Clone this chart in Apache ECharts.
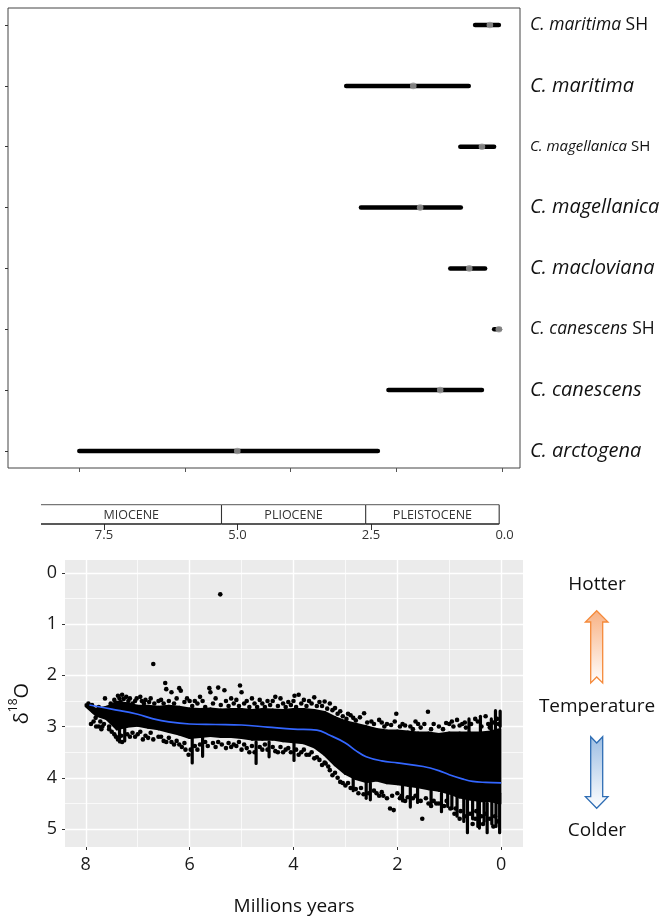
<!DOCTYPE html>
<html><head><meta charset="utf-8">
<script src="https://cdn.jsdelivr.net/npm/echarts@6/dist/echarts.min.js"></script>
<style>html,body{margin:0;padding:0;background:#fff}#c{width:663px;height:920px}</style>
</head><body><div id="c"></div>
<script>
// ---------- data ----------
const species = ['C. maritima SH','C. maritima','C. magellanica SH','C. magellanica','C. macloviana','C. canescens SH','C. canescens','C. arctogena'];
const ageOld   = [0.51, 2.95, 0.79, 2.67, 0.98, 0.15, 2.15, 8.00];
const ageYoung = [0.06, 0.63, 0.15, 0.78, 0.32, 0.04, 0.38, 2.35];
const ageMid   = [0.23, 1.68, 0.38, 1.55, 0.62, 0.06, 1.17, 5.01];
const rowTicks = [1,2,3,4,5,6,7,8];
const topTicks = [0,2,4,6,8];

const epochNames = ['MIOCENE','PLIOCENE','PLEISTOCENE'];
const epochStart = [8.68, 5.3, 2.6];
const epochEnd   = [5.3, 2.6, 0.1];
const scaleTicks = [7.5, 5.0, 2.5];
const scaleLabels = [7.5, 5.0, 2.5, 0.0];

const ageTicks = [8,6,4,2,0];
const ageMinor = [7,5,3,1];
const d18Ticks = [0,1,2,3,4,5];
const d18Minor = [0.5,1.5,2.5,3.5,4.5];

// dense core of the δ18O cloud (upper / lower edge)
const cloudAge    = [8.0,7.8,7.6,7.4,7.2,7.0,6.8,6.6,6.4,6.2,6.0,5.8,5.6,5.4,5.2,5.0,4.8,4.6,4.4,4.2,4.0,3.8,3.6,3.4,3.2,3.0,2.8,2.6,2.4,2.2,2.0,1.8,1.6,1.4,1.2,1.0,0.8,0.6,0.4,0.2,0.02];
const cloudTop    = [2.57,2.66,2.62,2.52,2.55,2.6,2.6,2.62,2.6,2.62,2.65,2.66,2.65,2.67,2.66,2.66,2.68,2.66,2.67,2.68,2.66,2.66,2.68,2.72,2.82,2.9,2.95,3.0,3.05,3.08,3.08,3.1,3.12,3.12,3.15,3.12,3.12,3.12,3.12,3.1,3.05];
const cloudBottom = [2.6,2.78,2.85,3.05,3.0,2.98,3.02,3.05,3.1,3.15,3.22,3.2,3.18,3.2,3.2,3.22,3.25,3.25,3.25,3.28,3.3,3.32,3.4,3.55,3.75,3.92,4.02,4.08,4.05,4.1,4.12,4.15,4.18,4.22,4.25,4.3,4.38,4.42,4.45,4.45,4.5];

// vertical runs of points [age, from, to]
const streaks = [
 [7.35,3.0,3.3],[7.25,3.0,3.28],[5.95,3.2,3.71],[5.75,3.2,3.58],[4.72,3.3,3.72],[4.47,3.3,3.59],[3.99,3.3,3.66],
 [2.85,3.9,4.25],[2.6,4.0,4.4],[2.52,4.1,4.43],[1.9,4.1,4.45],[1.75,4.1,4.57],[1.61,4.2,4.48],[1.35,4.2,4.5],[1.15,4.3,4.66],[1.03,4.3,4.56],
 [0.95,4.3,4.6],[0.85,4.3,4.75],[0.72,4.4,4.85],[0.65,4.4,5.07],[0.55,4.4,4.8],[0.45,4.4,4.95],[0.42,4.4,4.98],[0.33,4.4,4.85],[0.27,4.5,5.07],[0.18,4.4,4.9],[0.1,4.4,4.95],[0.03,4.3,5.07],
 [0.62,2.85,3.1],[0.4,2.8,3.1],[0.19,2.85,3.1],[0.11,2.69,3.1],[0.02,2.7,3.0]
];

// individual points
const points = [
 [5.41,0.42],[6.70,1.78],
 [7.95,2.55],[7.88,2.58],[7.81,2.83],[7.8,3.0],[7.7,2.79],[7.68,3.0],[7.63,2.45],[7.59,2.77],[7.55,3.0],[7.43,2.64],[7.38,2.4],[7.3,2.38],[7.22,2.42],[7.15,2.45],[7.05,2.5],[6.95,2.42],[6.85,2.48],[6.75,2.45],[6.6,2.5],[6.47,2.15],[6.45,2.27],[6.35,2.33],[6.2,2.25],[6.17,2.3],[6.05,2.45],[5.9,2.5],[5.8,2.42],[5.62,2.25],[5.6,2.33],[5.45,2.24],[5.33,2.29],[5.2,2.45],[5.1,2.48],[5.03,2.2],[5.0,2.33],[4.9,2.5],[4.8,2.45],[4.65,2.48],[4.5,2.5],[4.35,2.42],[4.25,2.45],[4.1,2.52],[3.98,2.4],[3.9,2.38],[3.8,2.48],[3.7,2.5],[3.6,2.43],[3.5,2.52],[3.4,2.51],[3.3,2.55],[3.2,2.64],[3.1,2.7],[2.95,2.75],[2.85,2.83],[2.64,2.74],[2.5,2.9],[2.35,2.87],[2.2,2.95],[2.02,2.75],[1.9,2.95],[1.75,3.0],[1.6,2.95],[1.41,2.71],[1.3,2.95],[1.06,2.93],[0.95,2.9],[0.85,2.87],[0.75,2.95],[0.5,2.85],[0.3,2.8],
 [7.92,2.62],[7.85,2.7],[7.75,2.62],[7.72,2.9],[7.62,2.68],[7.52,2.55],[7.48,2.72],[7.45,2.48],[7.35,2.45],[7.33,2.52],[7.27,2.46],[7.18,2.5],[7.1,2.55],[7.02,2.45],[6.92,2.5],[6.88,2.55],[6.78,2.52],[6.68,2.55],[6.55,2.48],[6.5,2.55],[6.4,2.5],[6.3,2.55],[6.25,2.45],[6.1,2.52],[6.0,2.5],[5.95,2.6],[5.85,2.55],[5.75,2.5],[5.7,2.62],[5.55,2.55],[5.5,2.45],[5.4,2.58],[5.3,2.5],[5.25,2.6],[5.15,2.55],[5.05,2.6],[4.95,2.55],[4.85,2.62],[4.75,2.55],[4.7,2.62],[4.6,2.55],[4.55,2.62],[4.45,2.58],[4.4,2.5],[4.3,2.6],[4.2,2.55],[4.15,2.62],[4.05,2.58],[4.0,2.5],[3.95,2.62],[3.85,2.55],[3.75,2.6],[3.65,2.55],[3.55,2.6],[3.45,2.6],[3.35,2.65],[3.25,2.68],[3.15,2.75],[3.05,2.8],[2.98,2.85],[2.9,2.78],[2.8,2.88],[2.72,2.82],[2.58,2.92],[2.45,2.95],[2.3,2.92],[2.25,3.0],[2.12,2.97],[2.05,2.9],[1.95,3.0],[1.85,2.98],[1.7,3.05],[1.65,2.9],[1.55,3.02],[1.48,2.95],[1.35,3.05],[1.2,3.0],[1.12,3.05],[1.0,2.95],[0.92,3.0],[0.8,2.98],[0.7,2.92],[0.68,3.02],[0.58,2.95],[0.45,2.9],[0.38,3.0],[0.25,2.95],[0.22,3.02],[0.15,2.92],[0.08,2.85],[0.05,2.95],
 [7.9,2.95],[7.7,3.05],[7.5,3.1],[7.42,3.2],[7.3,3.3],[7.15,3.2],[7.0,3.15],[6.9,3.25],[6.8,3.22],[6.6,3.2],[6.45,3.3],[6.3,3.35],[6.15,3.4],[6.02,3.55],[5.85,3.45],[5.5,3.4],[5.3,3.42],[5.15,3.35],[5.0,3.45],[4.85,3.5],[4.6,3.45],[4.3,3.5],[4.15,3.45],[3.85,3.5],[3.7,3.55],[3.55,3.6],[3.4,3.7],[3.33,3.78],[3.2,3.9],[3.05,4.1],[2.9,4.2],[2.75,4.3],[2.4,4.3],[2.27,4.35],[2.14,4.6],[2.07,4.63],[1.95,4.4],[1.85,4.45],[1.52,4.8],[1.4,4.5],[1.25,4.5],[0.9,4.7],[0.8,4.8],[0.55,4.9],[0.35,4.9],[0.15,4.95],
 [7.85,2.9],[7.75,3.0],[7.65,2.95],[7.55,3.05],[7.45,3.15],[7.38,3.25],[7.32,3.18],[7.2,3.15],[7.1,3.12],[7.05,3.2],[6.95,3.1],[6.85,3.18],[6.75,3.12],[6.7,3.25],[6.55,3.2],[6.5,3.28],[6.4,3.22],[6.35,3.3],[6.25,3.28],[6.2,3.35],[6.1,3.32],[6.08,3.45],[5.98,3.45],[5.9,3.38],[5.8,3.35],[5.7,3.3],[5.65,3.38],[5.55,3.32],[5.45,3.3],[5.38,3.35],[5.25,3.32],[5.2,3.4],[5.1,3.38],[5.05,3.3],[4.95,3.35],[4.9,3.42],[4.8,3.38],[4.75,3.5],[4.65,3.4],[4.55,3.35],[4.5,3.45],[4.4,3.4],[4.35,3.48],[4.25,3.4],[4.2,3.5],[4.1,3.42],[4.05,3.5],[3.95,3.45],[3.9,3.55],[3.8,3.45],[3.75,3.55],[3.65,3.5],[3.6,3.62],[3.5,3.65],[3.45,3.75],[3.38,3.72],[3.3,3.85],[3.25,3.95],[3.15,4.0],[3.1,4.08],[3.0,4.15],[2.95,4.1],[2.8,4.22],[2.7,4.2],[2.65,4.32],[2.55,4.3],[2.45,4.25],[2.35,4.35],[2.3,4.28],[2.2,4.4],[2.1,4.35],[2.0,4.3],[1.92,4.35],[1.8,4.38],[1.7,4.4],[1.65,4.35],[1.55,4.45],[1.45,4.4],[1.35,4.55],[1.3,4.45],[1.2,4.5],[1.1,4.55],[1.05,4.45],[0.98,4.6],[0.88,4.6],[0.78,4.65],[0.7,4.75],[0.6,4.7],[0.5,4.8],[0.48,4.65],[0.38,4.75],[0.3,4.7],[0.22,4.8],[0.12,4.75],[0.06,4.85]
];

const smoothAge = [7.93,7.5,7.0,6.7,6.4,6.0,5.5,5.0,4.5,4.0,3.55,3.3,3.0,2.8,2.6,2.3,2.0,1.5,1.2,1.0,0.75,0.55,0.3,0.0];
const smoothD18 = [2.58,2.66,2.76,2.85,2.91,2.95,2.96,2.97,3.01,3.05,3.07,3.17,3.32,3.47,3.59,3.67,3.71,3.78,3.86,3.94,4.02,4.07,4.09,4.10];

// ---------- chart ----------
const FF = '"Open Sans", "Noto Sans", sans-serif';
const labelSize = [17.5, 20, 15, 20, 20, 17.5, 20, 20];
const rich = {};
[15,17.5,20].forEach(s => {
  const k = String(s).replace('.', '_');
  rich['i' + k] = {fontStyle:'italic', fontSize:s, fontFamily:FF, color:'#111'};
  rich['n' + k] = {fontSize:s, fontFamily:FF, color:'#111'};
});
const noZero = {show:false, onZero:false};

const chart = echarts.init(document.getElementById('c'), null, {renderer:'canvas'});

const option = {
  backgroundColor:'#fff',
  animation:false,
  grid:[
    {left:8, top:8, width:512, height:460, show:true, borderColor:'#444', borderWidth:1, containLabel:false},
    {left:23.9, top:504.7, width:491.3, height:19.3, show:false},
    {left:57, top:560, width:466, height:287, show:true, backgroundColor:'#EBEBEB', borderWidth:0}
  ],
  xAxis:[
    {gridIndex:0, type:'value', inverse:true, min:-0.34, max:9.35, position:'bottom',
     axisLine:noZero, splitLine:{show:false}, axisLabel:{show:false},
     axisTick:{show:true, length:4, lineStyle:{color:'#555', width:1}, customValues:topTicks}},
    {gridIndex:1, type:'value', inverse:true, min:-0.2, max:9.0, position:'bottom',
     axisLine:noZero, splitLine:{show:false},
     axisTick:{show:true, length:6, lineStyle:{color:'#333', width:1}, customValues:scaleTicks},
     axisLabel:{customValues:scaleLabels, formatter:v => Number(v).toFixed(1), fontSize:13, color:'#333', margin:5, fontFamily:FF}},
    {gridIndex:2, type:'value', inverse:true, min:-0.42, max:8.40, position:'bottom',
     axisLine:noZero,
     axisTick:{show:true, length:3, lineStyle:{color:'#333'}, customValues:ageTicks},
     axisLabel:{customValues:ageTicks, fontSize:18, color:'#1a1a1a', margin:9, fontFamily:FF},
     splitLine:{show:true, lineStyle:{color:'#ffffff', width:1.4}},
     name:'Millions years', nameLocation:'middle', nameGap:50,
     nameTextStyle:{fontSize:19, color:'#111', fontFamily:FF}},
    {gridIndex:2, type:'value', inverse:true, min:-0.42, max:8.40, position:'top',
     axisLine:noZero, axisTick:{show:false, customValues:ageMinor}, axisLabel:{show:false},
     splitLine:{show:true, lineStyle:{color:'#ffffff', width:0.7}}}
  ],
  yAxis:[
    {gridIndex:0, type:'value', inverse:true, min:0.72, max:8.28, position:'left',
     axisLine:noZero, splitLine:{show:false}, axisLabel:{show:false},
     axisTick:{show:true, length:3, lineStyle:{color:'#333'}, customValues:rowTicks}},
    {gridIndex:0, type:'value', position:'right', inverse:true, min:0.72, max:8.28,
     axisLine:noZero, splitLine:{show:false}, axisTick:{show:false},
     axisLabel:{customValues:rowTicks, margin:10, rich:rich,
       formatter:v => {
         const i = Math.round(v) - 1; const nm = species[i];
         const k = String(labelSize[i]).replace('.', '_');
         const sh = nm.endsWith(' SH'); const base = sh ? nm.slice(0, -3) : nm;
         return '{i' + k + '|' + base + '}' + (sh ? '{n' + k + '| SH}' : '');
       }}},
    {gridIndex:1, type:'value', min:0, max:1, show:false},
    {gridIndex:2, type:'value', inverse:true, min:-0.25, max:5.35, position:'left',
     axisLine:noZero,
     axisTick:{show:true, length:3, lineStyle:{color:'#333'}, customValues:d18Ticks},
     axisLabel:{customValues:d18Ticks, fontSize:18, color:'#1a1a1a', margin:8, fontFamily:FF},
     splitLine:{show:true, lineStyle:{color:'#ffffff', width:1.4}},
     name:'{d|δ}{s|18}{d|O}', nameLocation:'middle', nameGap:33,
     nameTextStyle:{rich:{d:{fontSize:20, fontFamily:FF, color:'#111', verticalAlign:'bottom', lineHeight:24},
                          s:{fontSize:12, fontFamily:FF, color:'#111', verticalAlign:'top', lineHeight:12}}}},
    {gridIndex:2, type:'value', inverse:true, min:-0.25, max:5.35, position:'right',
     axisLine:noZero, axisTick:{show:false, customValues:d18Minor}, axisLabel:{show:false},
     splitLine:{show:true, lineStyle:{color:'#ffffff', width:0.7}}}
  ],
  series:[
    {type:'custom', xAxisIndex:0, yAxisIndex:0,
     data:species.map((s, i) => [i + 1, ageOld[i], ageYoung[i], ageMid[i]]),
     encode:{y:0, x:[1,2,3]},
     renderItem:(params, api) => {
       const a = api.coord([api.value(1), api.value(0)]);
       const b = api.coord([api.value(2), api.value(0)]);
       const m = api.coord([api.value(3), api.value(0)]);
       return {type:'group', children:[
         {type:'line', shape:{x1:a[0], y1:a[1], x2:b[0], y2:b[1]}, style:{stroke:'#000', lineWidth:4.5, lineCap:'round'}},
         {type:'circle', shape:{cx:m[0], cy:m[1], r:3.3}, style:{fill:'rgba(150,150,150,0.85)'}}
       ]};
     }},
    {type:'custom', xAxisIndex:1, yAxisIndex:2,
     data:epochNames.map((n, i) => [epochStart[i], epochEnd[i]]),
     encode:{x:[0,1]},
     renderItem:(params, api) => {
       const x0 = api.coord([api.value(0), 1]);
       const x1 = api.coord([api.value(1), 1]);
       const b0 = api.coord([api.value(0), 0]);
       const b1 = api.coord([api.value(1), 0]);
       const name = epochNames[params.dataIndex];
       return {type:'group', children:[
         {type:'line', shape:{x1:x0[0], y1:x0[1], x2:x1[0], y2:x1[1]}, style:{stroke:'#777', lineWidth:1.3}},
         {type:'line', shape:{x1:b0[0], y1:b0[1], x2:b1[0], y2:b1[1]}, style:{stroke:'#222', lineWidth:1.3}},
         {type:'line', shape:{x1:x1[0], y1:x1[1], x2:b1[0], y2:b1[1]}, style:{stroke:'#333', lineWidth:1.1}},
         {type:'text', x:(x0[0] + x1[0]) / 2, y:(x0[1] + b0[1]) / 2 + 1.5,
          style:{text:name, fontSize:12.5, fontFamily:FF, fill:'#333', align:'center', verticalAlign:'middle'}}
       ]};
     }},
    {type:'custom', xAxisIndex:2, yAxisIndex:3, silent:true,
     data:cloudAge.map((a, i) => [a, cloudTop[i], cloudBottom[i]]),
     encode:{x:0, y:[1,2]},
     renderItem:(params, api) => {
       const i = params.dataIndex;
       if (i >= cloudAge.length - 1) return null;
       const p1 = api.coord([cloudAge[i], cloudTop[i]]);
       const p2 = api.coord([cloudAge[i + 1], cloudTop[i + 1]]);
       const p3 = api.coord([cloudAge[i + 1], cloudBottom[i + 1]]);
       const p4 = api.coord([cloudAge[i], cloudBottom[i]]);
       return {type:'polygon', shape:{points:[p1, p2, p3, p4]}, style:{fill:'#000', stroke:'#000', lineWidth:2.5, lineJoin:'round'}};
     }},
    {type:'custom', xAxisIndex:2, yAxisIndex:3, data:streaks, encode:{x:0, y:[1,2]},
     renderItem:(params, api) => {
       const p1 = api.coord([api.value(0), api.value(1)]);
       const p2 = api.coord([api.value(0), api.value(2)]);
       return {type:'rect', shape:{x:p1[0] - 1.6, y:Math.min(p1[1], p2[1]) - 1.6, width:3.2, height:Math.abs(p2[1] - p1[1]) + 3.2, r:1.6}, style:{fill:'#000'}};
     }},
    {type:'scatter', xAxisIndex:2, yAxisIndex:3, data:points, symbolSize:4.6, itemStyle:{color:'#000', opacity:1}},
    {type:'line', xAxisIndex:2, yAxisIndex:3, smooth:0.4, symbol:'none',
     data:smoothAge.map((a, i) => [a, smoothD18[i]]), lineStyle:{color:'#3366FF', width:1.7}}
  ],
  graphic:[
    {type:'text', x:597, y:585, style:{text:'Hotter', fontSize:19, fontFamily:FF, fill:'#111', align:'center', verticalAlign:'middle'}},
    {type:'text', x:597, y:707, style:{text:'Temperature', fontSize:19, fontFamily:FF, fill:'#111', align:'center', verticalAlign:'middle'}},
    {type:'text', x:597, y:831, style:{text:'Colder', fontSize:19, fontFamily:FF, fill:'#111', align:'center', verticalAlign:'middle'}},
    {type:'polygon', shape:{points:[[596.7,610.7],[608,622],[602.7,622],[602.7,683],[596.7,677],[590.7,683],[590.7,622],[585.4,622]]},
     style:{stroke:'#F58A3B', lineWidth:1.3,
       fill:new echarts.graphic.LinearGradient(0,0,0,1,[{offset:0,color:'#F8B183'},{offset:1,color:'#FFFFFF'}])}},
    {type:'polygon', shape:{points:[[590.7,736.7],[596.7,743],[602.7,736.7],[602.7,796.7],[608,796.7],[596.7,808.3],[585.4,796.7],[590.7,796.7]]},
     style:{stroke:'#2E6DB4', lineWidth:1.3,
       fill:new echarts.graphic.LinearGradient(0,0,0,1,[{offset:0,color:'#9DBEE3'},{offset:1,color:'#FFFFFF'}])}}
  ]
};
chart.setOption(option);
</script>
</body></html>
